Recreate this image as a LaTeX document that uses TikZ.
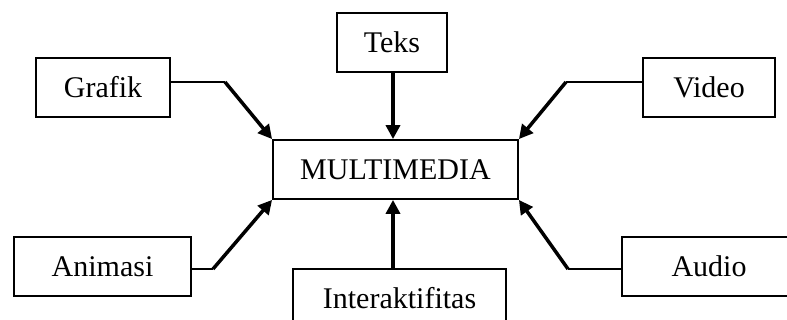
\documentclass[tikz,border=0pt]{standalone}
\usepackage{fontspec}
\setmainfont{Liberation Serif}
\usetikzlibrary{arrows.meta}
\begin{document}
\begin{tikzpicture}[x=1pt,y=-1pt,
  box/.style={draw,line width=1.8pt,inner sep=0pt,minimum height=59pt,font=\fontsize{30}{32}\selectfont},
  thin/.style={line width=1.8pt},
  thick arrow/.style={line width=3.5pt,-{Triangle[length=14pt,width=14pt]}}]
\useasboundingbox (0,0) rectangle (787,320);
\node[box,minimum width=245pt] (m) at (395.5,169.5) {MULTIMEDIA};
\node[box,minimum width=134pt] (g) at (103,87.5) {Grafik};
\node[box,minimum width=110pt] (t) at (392,42.5) {Teks};
\node[box,minimum width=132pt] (v) at (709,87.5) {Video};
\node[box,minimum width=177pt] (a) at (102.5,266.5) {Animasi};
\node[box,minimum width=213pt] (i) at (399.5,298.5) {Interaktifitas};
\node[box,minimum width=174pt] (u) at (709,266.5) {Audio};
\coordinate (g1) at (225,82);
\coordinate (v1) at (566,82);
\coordinate (a1) at (213,269);
\coordinate (u1) at (568,269);
\coordinate (tx) at (393,0);
\draw[thin] (g.east |- g1) -- (g1);
\draw[thick arrow] (g1) -- (m.north west);
\draw[thin] (v.west |- v1) -- (v1);
\draw[thick arrow] (v1) -- (m.north east);
\draw[thin] (a.east |- a1) -- (a1);
\draw[thick arrow] (a1) -- (m.south west);
\draw[thin] (u.west |- u1) -- (u1);
\draw[thick arrow] (u1) -- (m.south east);
\draw[thick arrow] (tx |- t.south) -- (tx |- m.north);
\draw[thick arrow] (tx |- i.north) -- (tx |- m.south);
\end{tikzpicture}
\end{document}
